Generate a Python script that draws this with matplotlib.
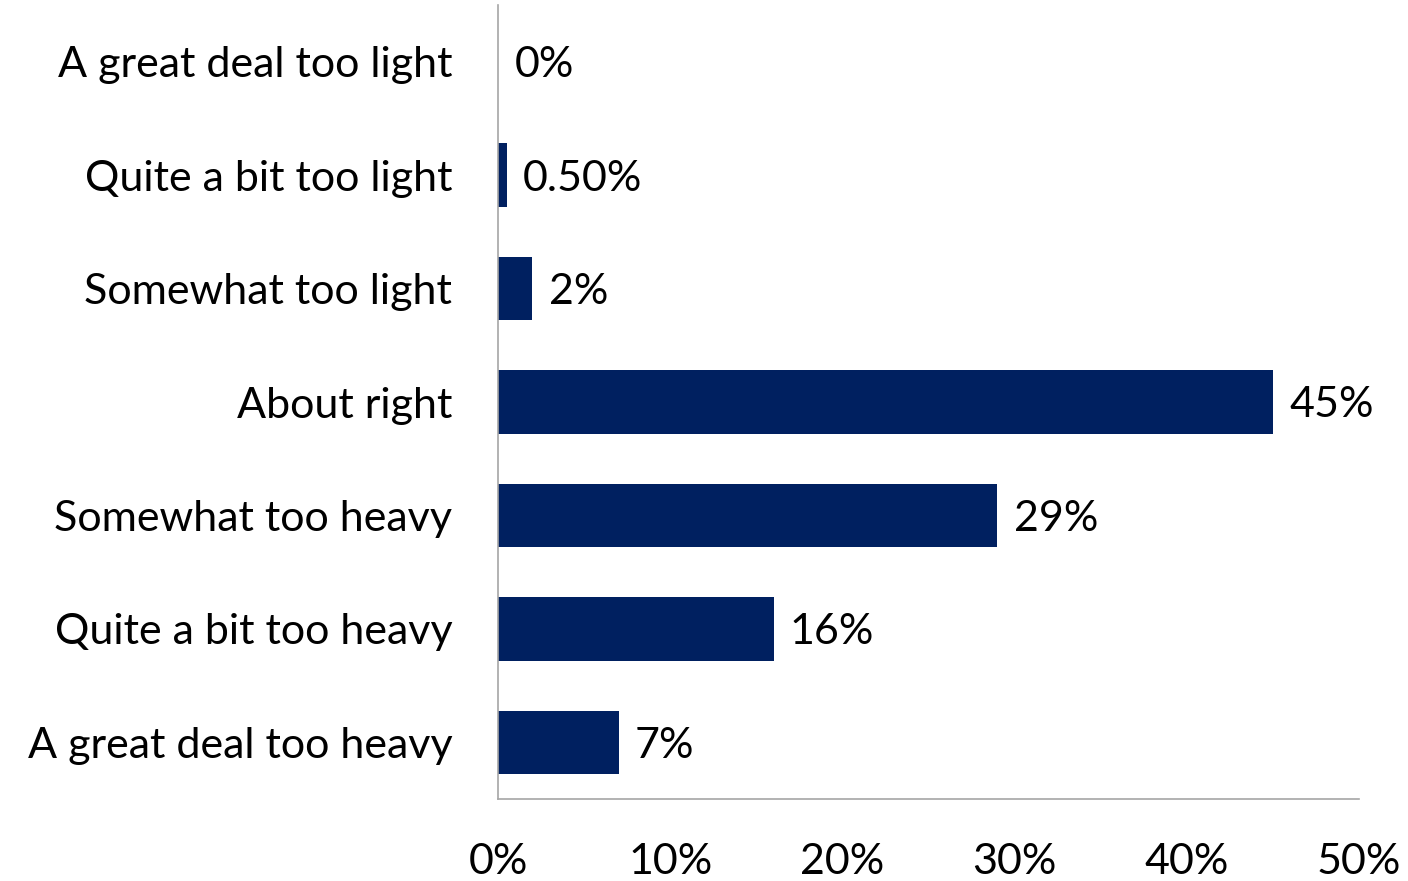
import matplotlib
matplotlib.use("Agg")
import matplotlib.pyplot as plt

categories = ['A great deal too light', 'Quite a bit too light', 'Somewhat too light',
              'About right', 'Somewhat too heavy', 'Quite a bit too heavy',
              'A great deal too heavy']
values = [0, 0.5, 2, 45, 29, 16, 7]
value_labels = ['0%', '0.50%', '2%', '45%', '29%', '16%', '7%']
xticks = [0, 10, 20, 30, 40, 50]

plt.rcParams['font.family'] = ['Lato', 'DejaVu Sans']

fig = plt.figure(figsize=(14.08, 8.81), dpi=100)
ax = fig.add_axes([0.3537, 0.0931, 0.6115, 0.9012])

y = list(range(len(categories)))
ax.barh(y, values, height=0.56, color='#002060')
for yi, v, lab in zip(y, values, value_labels):
    ax.text(v + 0.95, yi + 0.03, lab, va='center', ha='left', fontsize=31, color='black')

ax.set_xlim(0, 50)
ax.set_ylim(len(categories) - 0.5, -0.5)
ax.set_yticks(y)
ax.set_yticklabels(categories, fontsize=31)
ax.set_xticks(xticks)
ax.set_xticklabels([f'{t}%' for t in xticks], fontsize=31)
ax.tick_params(axis='both', length=0)
ax.tick_params(axis='y', pad=33)
ax.tick_params(axis='x', pad=32)

for s in ['top', 'right']:
    ax.spines[s].set_visible(False)
for s in ['left', 'bottom']:
    ax.spines[s].set_color('#a6a6a6')
    ax.spines[s].set_linewidth(1.2)

fig.savefig('out.png', dpi=100)
